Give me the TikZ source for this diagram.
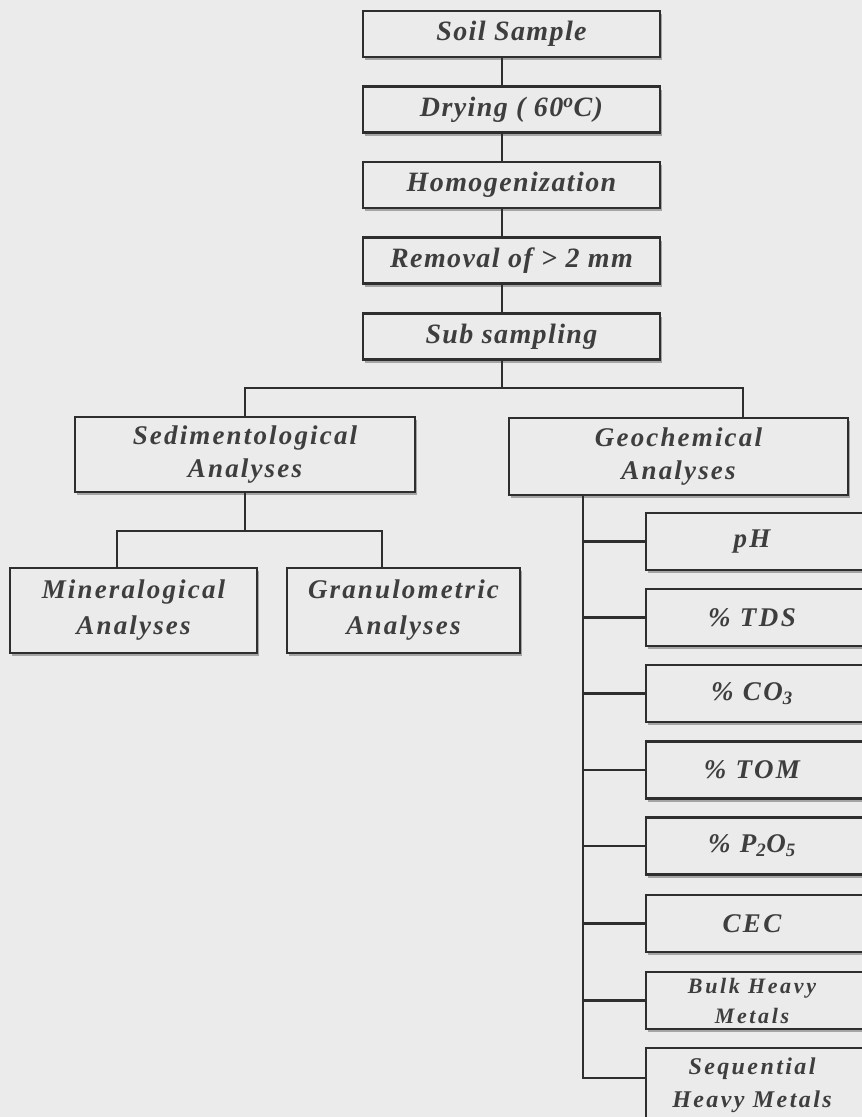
\documentclass[tikz,border=0pt]{standalone}
\usepackage{fontspec}
\setmainfont{Liberation Serif}
\usetikzlibrary{shadows}
\definecolor{bgc}{HTML}{EBEBEB}
\definecolor{linec}{HTML}{2E2E2E}
\definecolor{txtc}{HTML}{3E3E3E}
\newcommand\tfnt[3]{\fontsize{#1pt}{#2pt}\selectfont\bfseries\itshape\addfontfeatures{LetterSpace=#3}}
\tikzset{
  box/.style={draw=linec, line width=2.7pt, fill=bgc,
    drop shadow={shadow xshift=2pt, shadow yshift=-3pt, fill=black, opacity=0.3},
    text=txtc, align=center, inner sep=0pt},
  topbox/.style={box, minimum width=297pt, minimum height=46pt, font=\tfnt{28}{32}{5}},
  midbox/.style={box, font=\tfnt{27}{33}{8}},
  lowbox/.style={box, minimum height=85pt, font=\tfnt{27}{36}{8}},
  rbox/.style={box, minimum width=260pt, minimum height=57pt, font=\tfnt{27}{30}{9}},
  conn/.style={draw=linec, line width=2.7pt}
}
\newcommand\rtext[1]{\parbox{212pt}{\centering #1}\hspace*{48pt}}
\begin{document}
\begin{tikzpicture}[x=1pt,y=-1pt]
\fill[bgc] (0,0) rectangle (862,1117);
\useasboundingbox (0,0) rectangle (862,1117);
\clip (0,0) rectangle (862,1117);
% top chain
\node[topbox] (soil) at (511.5,34) {Soil Sample};
\node[topbox] (dry)  at (511.5,109.5) {Drying ( 60\textsuperscript{o}C)};
\node[topbox] (hom)  at (511.5,185) {Homogenization};
\node[topbox] (rem)  at (511.5,260.5) {Removal of > 2 mm};
\node[topbox] (sub)  at (511.5,336.5) {Sub sampling};
% second level
\node[midbox, minimum width=340pt, minimum height=75pt] (sed) at (245,454.5) {Sedimentological\\Analyses};
\node[midbox, minimum width=339pt, minimum height=77pt] (geo) at (678.5,456.5) {Geochemical\\Analyses};
% third level left
\node[lowbox, minimum width=247pt] (min)  at (133.5,610.5) {Mineralogical\\Analyses};
\node[lowbox, minimum width=233pt] (gran) at (403.5,610.5) {Granulometric\\Analyses};
% right list
\node[rbox] (ph)   at (776,541.5) {\rtext{pH}};
\node[rbox] (tds)  at (776,617.5) {\rtext{\% TDS}};
\node[rbox] (co)   at (776,693.5) {\rtext{\% CO\textsubscript{3}}};
\node[rbox] (tom)  at (776,770)   {\rtext{\% TOM}};
\node[rbox] (pto)  at (776,846)   {\rtext{\% P\textsubscript{2}O\textsubscript{5}}};
\node[rbox] (cec)  at (776,923.5) {\rtext{CEC}};
\node[rbox, font=\tfnt{22}{30}{12}] (bulk) at (776,1000.5) {\rtext{Bulk Heavy\\Metals}};
\node[rbox, minimum height=75pt, font=\tfnt{24}{33}{10}] (seq) at (776,1085.5) {\rtext{Sequential\\Heavy Metals}};
% helper coordinates
\coordinate (tc) at (502,0);
\coordinate (gc) at (743,0);
\coordinate (mc) at (117,0);
\coordinate (grc) at (382,0);
\coordinate (sp) at (583,0);
\coordinate (b1) at (0,388);
\coordinate (b2) at (0,531);
\coordinate (seqb) at (0,1078);
% connectors
\draw[conn] (soil.south -| tc) -- (dry.north -| tc);
\draw[conn] (dry.south -| tc) -- (hom.north -| tc);
\draw[conn] (hom.south -| tc) -- (rem.north -| tc);
\draw[conn] (rem.south -| tc) -- (sub.north -| tc);
\draw[conn] (sub.south -| tc) -- (b1 -| tc);
\draw[conn] (sed.north) -- (sed.north |- b1) -- (gc |- b1) -- (gc |- geo.north);
\draw[conn] (sed.south) -- (sed.south |- b2);
\draw[conn] (mc |- min.north) -- (mc |- b2) -- (grc |- b2) -- (grc |- gran.north);
\draw[conn] (sp |- geo.south) -- (sp |- seqb) -- (seq.west |- seqb);
\foreach \n in {ph,tds,co,tom,pto,cec,bulk} {
  \draw[conn] (sp |- \n.west) -- (\n.west);
}
\end{tikzpicture}
\end{document}
